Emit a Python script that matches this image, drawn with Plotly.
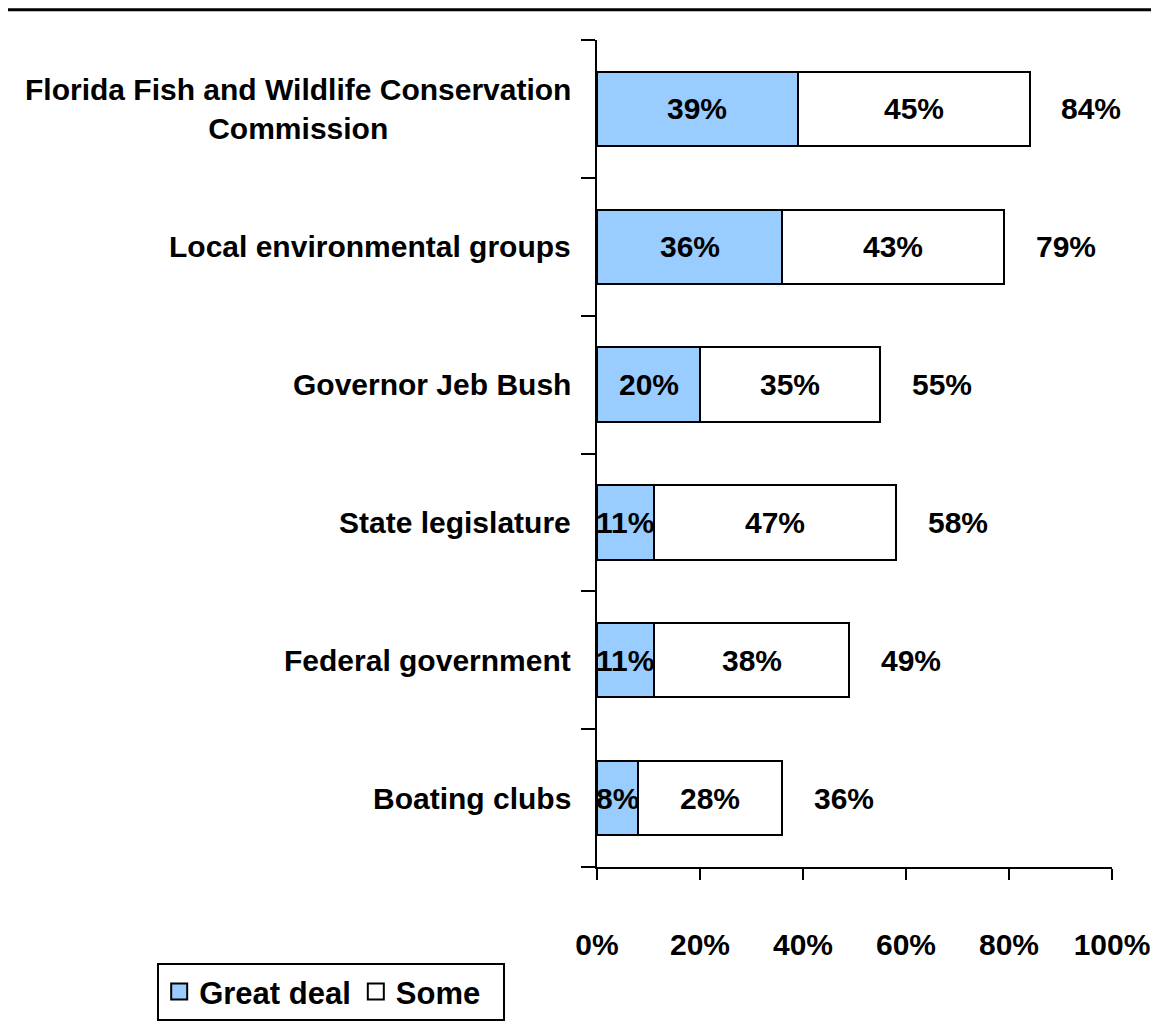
import plotly.graph_objects as go

categories = ["Florida Fish and Wildlife Conservation<br>Commission",
              "Local environmental groups",
              "Governor Jeb Bush",
              "State legislature",
              "Federal government",
              "Boating clubs"]
series_names = ["Great deal", "Some"]
great_deal = [39, 36, 20, 11, 11, 8]
some = [45, 43, 35, 47, 38, 28]
totals = [84, 79, 55, 58, 49, 36]
x_ticks = [0, 20, 40, 60, 80, 100]
x_tick_labels = ["0%", "20%", "40%", "60%", "80%", "100%"]

FONT = "Liberation Sans, Arial, sans-serif"
FS = 30
BLUE = "#99CCFF"

fig = go.Figure()
fig.add_trace(go.Bar(
    y=categories, x=great_deal, orientation="h", name=series_names[0], showlegend=False,
    marker=dict(color=BLUE, line=dict(color="black", width=2)),
))
fig.add_trace(go.Bar(
    y=categories, x=some, orientation="h", name=series_names[1], showlegend=False,
    marker=dict(color="white", line=dict(color="black", width=2)),
))
# legend-only entries with larger square swatches
legend_suffix = ["", "&nbsp;&nbsp;"]
for nm, col, suf in zip(series_names, [BLUE, "white"], legend_suffix):
    fig.add_trace(go.Scatter(
        x=[None], y=[None], mode="markers", name=f"<b>{nm}</b>{suf}",
        marker=dict(symbol="square", size=19, color=col, line=dict(color="black", width=2)),
    ))

annotations = []
for c, g, s, t in zip(categories, great_deal, some, totals):
    annotations.append(dict(x=g / 2, y=c, xref="x", yref="y", text=f"<b>{g}%</b>",
                            showarrow=False, font=dict(size=FS, family=FONT, color="black")))
    annotations.append(dict(x=g + s / 2, y=c, xref="x", yref="y", text=f"<b>{s}%</b>",
                            showarrow=False, font=dict(size=FS, family=FONT, color="black")))
    annotations.append(dict(x=t + 12, y=c, xref="x", yref="y", text=f"<b>{t}%</b>",
                            showarrow=False, font=dict(size=FS, family=FONT, color="black")))
    annotations.append(dict(x=-0.047, y=c, xref="paper", yref="y", text=f"<b>{c}</b>",
                            xanchor="right", align="center", showarrow=False,
                            font=dict(size=FS, family=FONT, color="black")))

fig.update_layout(
    width=1159, height=1025,
    barmode="stack", bargap=0.46,
    plot_bgcolor="white", paper_bgcolor="white",
    margin=dict(l=589, r=55, t=32, b=160),
    font=dict(family=FONT, size=FS, color="black"),
    xaxis=dict(range=[0, 100], tickvals=x_ticks, ticktext=[f"<b>{t}</b>" for t in x_tick_labels],
               ticks="outside", ticklen=11, tickwidth=2, tickcolor="black",
               showline=True, linecolor="black", linewidth=2, showgrid=False, zeroline=False,
               ticklabelstandoff=39, tickfont=dict(size=FS, family=FONT)),
    yaxis=dict(categoryorder="array", categoryarray=categories[::-1],
               showticklabels=False, ticks="outside", ticklen=14, tickwidth=2, tickcolor="black",
               tickson="boundaries", showline=True, linecolor="black", linewidth=2,
               showgrid=False, zeroline=False),
    showlegend=True,
    legend=dict(orientation="h", x=-0.854, y=-0.116, xanchor="left", yanchor="top",
                bordercolor="black", borderwidth=2, font=dict(size=FS + 1, family=FONT),
                traceorder="normal", itemwidth=30, tracegroupgap=0),
    annotations=annotations,
    shapes=[dict(type="line", xref="paper", yref="paper", x0=-1.2, x1=1.2,
                 y0=1 + 30.5 / 833, y1=1 + 30.5 / 833, line=dict(color="black", width=3))],
)

fig.write_html("out.html")
